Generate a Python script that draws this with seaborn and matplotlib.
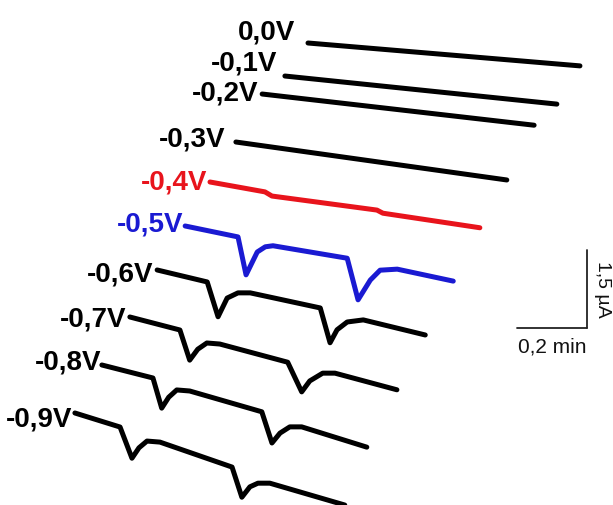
import numpy as np
import pandas as pd
import matplotlib
matplotlib.use("Agg")
import matplotlib.pyplot as plt
import seaborn as sns

# ---------------- data (time in min, current in µA, relative to trace start) ----------------
labels = ["0,0V", "-0,1V", "-0,2V", "-0,3V", "-0,4V", "-0,5V", "-0,6V", "-0,7V", "-0,8V", "-0,9V"]

t_00 = [0.0, 0.777]
i_00 = [0.0, -0.44]
t_01 = [0.0, 0.777]
i_01 = [0.0, -0.54]
t_02 = [0.0, 0.777]
i_02 = [0.0, -0.60]
t_03 = [0.0, 0.774]
i_03 = [0.0, -0.73]
t_04 = [0.0, 0.157, 0.177, 0.477, 0.494, 0.771]
i_04 = [0.0, -0.19, -0.27, -0.54, -0.60, -0.88]
t_05 = [0.0, 0.151, 0.174, 0.206, 0.229, 0.251, 0.463, 0.494, 0.529, 0.557, 0.606, 0.766]
i_05 = [0.0, -0.21, -0.94, -0.50, -0.40, -0.38, -0.62, -1.42, -1.04, -0.85, -0.83, -1.06]
t_06 = [0.0, 0.143, 0.174, 0.200, 0.231, 0.266, 0.466, 0.494, 0.514, 0.543, 0.589, 0.766]
i_06 = [0.0, -0.23, -0.90, -0.54, -0.44, -0.44, -0.73, -1.40, -1.15, -1.00, -0.96, -1.25]
t_07 = [0.0, 0.143, 0.171, 0.194, 0.220, 0.257, 0.451, 0.491, 0.514, 0.551, 0.586, 0.763]
i_07 = [0.0, -0.25, -0.83, -0.62, -0.50, -0.52, -0.87, -1.44, -1.23, -1.08, -1.08, -1.40]
t_08 = [0.0, 0.146, 0.171, 0.191, 0.214, 0.251, 0.457, 0.486, 0.509, 0.537, 0.571, 0.757]
i_08 = [0.0, -0.25, -0.83, -0.62, -0.48, -0.50, -0.90, -1.50, -1.31, -1.19, -1.19, -1.58]
t_09 = [0.0, 0.129, 0.163, 0.183, 0.206, 0.243, 0.449, 0.477, 0.500, 0.523, 0.557, 0.771]
i_09 = [0.0, -0.27, -0.87, -0.67, -0.54, -0.56, -1.04, -1.62, -1.42, -1.35, -1.35, -1.77]

times = [t_00, t_01, t_02, t_03, t_04, t_05, t_06, t_07, t_08, t_09]
currents = [i_00, i_01, i_02, i_03, i_04, i_05, i_06, i_07, i_08, i_09]

scale_time = 0.2      # min
scale_current = 1.5   # µA

# ---------------- layout (waterfall offsets, styles) ----------------
x_off = [0.880, 0.814, 0.749, 0.674, 0.600, 0.529, 0.449, 0.371, 0.291, 0.214]
y_off = [-0.827, -1.462, -1.808, -2.731, -3.500, -4.346, -5.192, -6.096, -7.019, -7.942]
label_off_px = [(-13, 4), (-8, 6), (-4, -6), (-11, -4), (-3, -8),
                (-2, -6), (-4, -12), (-3, -10), (0, -5), (-3, -14)]
colors = ["black"] * 4 + ["#e8141c", "#1a1ad2"] + ["black"] * 4

sns.set_theme(style="white")
plt.rcParams["font.family"] = ["Liberation Sans", "DejaVu Sans"]

fig = plt.figure(figsize=(6.13, 5.05), dpi=100)
ax = fig.add_axes([0, 0, 1, 1])

for k in range(len(labels)):
    df = pd.DataFrame({"t": np.array(times[k]) + x_off[k],
                       "i": np.array(currents[k]) + y_off[k]})
    sns.lineplot(data=df, x="t", y="i", ax=ax, color=colors[k], lw=3.6,
                 sort=False, estimator=None)
    ax.annotate(labels[k], xy=(x_off[k], y_off[k]), xytext=label_off_px[k],
                textcoords="offset pixels", ha="right", va="baseline",
                fontsize=20, fontweight="bold", color=colors[k])

for line in ax.lines:
    line.set_solid_capstyle("round")
    line.set_solid_joinstyle("round")

# scale bar
cx, cy = 1.677, -6.308
ax.plot([cx - scale_time, cx], [cy, cy], color="#222222", lw=1.3)
ax.plot([cx, cx], [cy, cy + scale_current], color="#222222", lw=1.3)
ax.text(cx - scale_time / 2, cy - 0.18, "0,2 min", ha="center", va="top", fontsize=15, color="#111111")
ax.text(cx + 0.045, cy + scale_current / 2, "1,5 µA", ha="center", va="center",
        rotation=270, fontsize=14, color="#111111")

ax.set_xlim(0, 613 / 350)
ax.set_ylim(-505 / 52, 0)
ax.set_xlabel("")
ax.set_ylabel("")
ax.axis("off")
fig.savefig("out.png", dpi=100, facecolor="white")
